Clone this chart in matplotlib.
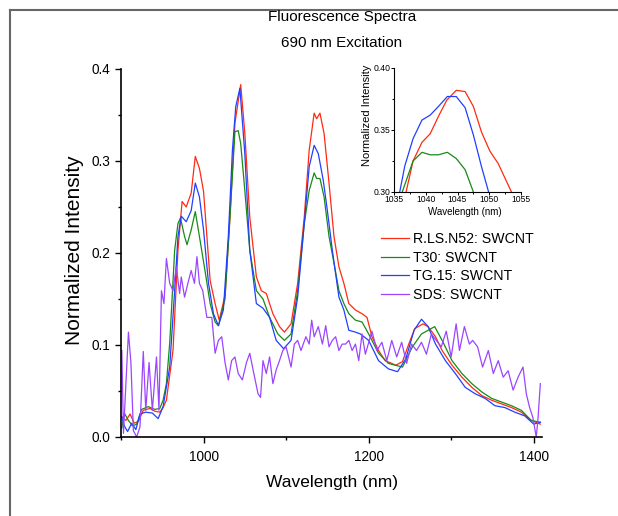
import matplotlib
matplotlib.use("Agg")
import matplotlib.pyplot as plt
from matplotlib.lines import Line2D
from matplotlib.ticker import MultipleLocator, FormatStrFormatter

# ---- data ----
red_wl = [901, 906, 911, 916, 921, 927, 935, 941, 947, 951, 955, 963, 969, 974, 979, 985, 990, 995,
          1000, 1008, 1014, 1019, 1026, 1032, 1038, 1045, 1050, 1056, 1064, 1070, 1076, 1084, 1092,
          1098, 1106, 1114, 1122, 1128, 1134, 1137, 1141, 1146, 1152, 1158, 1164, 1170, 1176, 1184,
          1192, 1198, 1204, 1212, 1220, 1233, 1241, 1249, 1256, 1266, 1272, 1281, 1289, 1301, 1313,
          1325, 1337, 1349, 1361, 1373, 1385, 1397, 1408]
red_int = [0.022, 0.018, 0.025, 0.015, 0.017, 0.029, 0.031, 0.028, 0.027, 0.032, 0.040, 0.094, 0.203,
           0.256, 0.250, 0.265, 0.305, 0.292, 0.267, 0.170, 0.145, 0.127, 0.154, 0.239, 0.341, 0.383,
           0.330, 0.239, 0.174, 0.159, 0.156, 0.134, 0.120, 0.114, 0.123, 0.167, 0.239, 0.312, 0.352,
           0.346, 0.352, 0.330, 0.276, 0.218, 0.185, 0.167, 0.145, 0.138, 0.134, 0.130, 0.109, 0.094,
           0.083, 0.078, 0.082, 0.102, 0.118, 0.123, 0.120, 0.109, 0.094, 0.078, 0.065, 0.054, 0.045,
           0.040, 0.036, 0.032, 0.027, 0.018, 0.014]

green_wl = [901, 904, 909, 914, 919, 925, 933, 941, 947, 951, 955, 959, 965, 969, 972, 977, 980, 985,
            990, 995, 1001, 1008, 1014, 1018, 1026, 1032, 1038, 1042, 1045, 1050, 1056, 1064, 1072,
            1080, 1090, 1098, 1106, 1114, 1122, 1128, 1134, 1137, 1141, 1146, 1152, 1158, 1164, 1170,
            1176, 1184, 1192, 1200, 1212, 1224, 1241, 1253, 1264, 1280, 1289, 1301, 1313, 1325, 1337,
            1349, 1361, 1373, 1385, 1397, 1408]
green_int = [0.010, 0.026, 0.018, 0.012, 0.014, 0.030, 0.033, 0.030, 0.031, 0.040, 0.058, 0.102, 0.203,
             0.232, 0.238, 0.218, 0.209, 0.225, 0.245, 0.218, 0.185, 0.145, 0.125, 0.121, 0.150, 0.239,
             0.332, 0.333, 0.319, 0.268, 0.203, 0.159, 0.150, 0.130, 0.112, 0.105, 0.112, 0.159, 0.232,
             0.268, 0.287, 0.281, 0.281, 0.261, 0.218, 0.189, 0.159, 0.145, 0.134, 0.127, 0.125, 0.112,
             0.091, 0.080, 0.076, 0.098, 0.112, 0.120, 0.105, 0.083, 0.069, 0.058, 0.049, 0.042, 0.038,
             0.034, 0.029, 0.018, 0.016]

blue_wl = [901, 904, 908, 913, 918, 923, 930, 938, 945, 951, 959, 965, 969, 973, 979, 985, 990, 995,
           1000, 1006, 1012, 1018, 1024, 1030, 1035, 1039, 1044, 1050, 1056, 1064, 1072, 1080, 1088,
           1097, 1106, 1114, 1122, 1128, 1134, 1139, 1145, 1150, 1156, 1164, 1170, 1176, 1184, 1190,
           1200, 1212, 1224, 1235, 1245, 1255, 1264, 1272, 1281, 1293, 1305, 1317, 1329, 1341, 1353,
           1365, 1377, 1389, 1400, 1408]
blue_int = [0.022, 0.012, 0.006, 0.015, 0.008, 0.025, 0.027, 0.026, 0.020, 0.033, 0.076, 0.159, 0.218,
            0.240, 0.234, 0.246, 0.276, 0.261, 0.225, 0.167, 0.134, 0.121, 0.138, 0.218, 0.312, 0.359,
            0.379, 0.308, 0.203, 0.145, 0.140, 0.130, 0.105, 0.096, 0.105, 0.152, 0.232, 0.294, 0.317,
            0.308, 0.279, 0.246, 0.203, 0.152, 0.138, 0.116, 0.114, 0.112, 0.105, 0.083, 0.074, 0.071,
            0.085, 0.116, 0.128, 0.120, 0.101, 0.083, 0.069, 0.054, 0.047, 0.042, 0.034, 0.032, 0.027,
            0.023, 0.014, 0.016]

sds_wl = [901, 903, 909, 912, 915, 919, 923, 927, 930, 934, 938, 943, 946, 949, 952, 955, 959, 963,
          967, 971, 973, 977, 981, 985, 989, 992, 995, 999, 1004, 1010, 1014, 1018, 1022, 1026, 1030,
          1034, 1038, 1042, 1047, 1052, 1056, 1060, 1066, 1069, 1072, 1076, 1080, 1084, 1088, 1092,
          1096, 1100, 1106, 1110, 1114, 1118, 1124, 1128, 1131, 1134, 1139, 1144, 1148, 1152, 1156,
          1160, 1164, 1168, 1172, 1176, 1180, 1184, 1188, 1192, 1196, 1204, 1210, 1216, 1222, 1228,
          1234, 1240, 1246, 1252, 1258, 1264, 1270, 1276, 1282, 1288, 1294, 1300, 1306, 1310, 1316,
          1322, 1326, 1332, 1338, 1345, 1351, 1357, 1363, 1369, 1375, 1381, 1387, 1391, 1395, 1399,
          1403, 1405, 1408]
sds_int = [0.094, 0.004, 0.114, 0.081, 0.007, 0.0, 0.011, 0.093, 0.029, 0.081, 0.029, 0.087, 0.029,
           0.159, 0.145, 0.194, 0.167, 0.159, 0.185, 0.156, 0.174, 0.152, 0.167, 0.181, 0.167, 0.196,
           0.167, 0.159, 0.130, 0.130, 0.091, 0.105, 0.109, 0.081, 0.062, 0.083, 0.087, 0.069, 0.062,
           0.081, 0.091, 0.073, 0.047, 0.043, 0.083, 0.069, 0.087, 0.058, 0.073, 0.083, 0.094, 0.098,
           0.076, 0.101, 0.105, 0.094, 0.109, 0.101, 0.127, 0.109, 0.120, 0.101, 0.121, 0.098, 0.105,
           0.109, 0.094, 0.101, 0.101, 0.105, 0.094, 0.101, 0.083, 0.112, 0.090, 0.115, 0.094, 0.103,
           0.083, 0.105, 0.087, 0.103, 0.080, 0.101, 0.094, 0.103, 0.090, 0.112, 0.105, 0.098, 0.115,
           0.087, 0.123, 0.094, 0.120, 0.101, 0.105, 0.098, 0.076, 0.094, 0.069, 0.083, 0.065, 0.072,
           0.051, 0.065, 0.076, 0.047, 0.032, 0.021, 0.0, 0.018, 0.058]

# inset (zoom on the 1045 nm peak)
ins_red_wl = [1036.9, 1038.0, 1039.4, 1040.7, 1042.0, 1043.3, 1044.8, 1046.2, 1047.5, 1048.8, 1050.1, 1051.4, 1053.5]
ins_red_int = [0.300, 0.325, 0.340, 0.347, 0.361, 0.374, 0.382, 0.381, 0.369, 0.348, 0.333, 0.323, 0.300]
ins_green_wl = [1036.3, 1038.0, 1039.4, 1040.7, 1042.0, 1043.4, 1044.8, 1046.2, 1047.5]
ins_green_int = [0.300, 0.325, 0.332, 0.330, 0.330, 0.332, 0.327, 0.318, 0.300]
ins_blue_wl = [1035.9, 1036.7, 1038.0, 1039.4, 1040.7, 1042.0, 1043.4, 1044.8, 1046.2, 1047.5, 1048.8, 1049.9]
ins_blue_int = [0.300, 0.321, 0.343, 0.358, 0.362, 0.369, 0.377, 0.377, 0.368, 0.346, 0.320, 0.300]

labels = ["R.LS.N52: SWCNT", "T30: SWCNT", "TG.15: SWCNT", "SDS: SWCNT"]
colors = ["#ff2a12", "#178a17", "#2040ff", "#9b45ff"]

plt.rcParams["font.family"] = ["Liberation Sans", "DejaVu Sans"]

W, H = 618, 516
fig = plt.figure(figsize=(W / 100, H / 100), dpi=100)


def fx(px):
    return px / W


def fy(py):
    return 1 - py / H


# gray frame on top and left (screenshot border)
fig.add_artist(Line2D([fx(10), 1], [fy(10), fy(10)], color="#666666", lw=1.5))
fig.add_artist(Line2D([fx(10), fx(10)], [fy(10), 0], color="#666666", lw=1.5))

ax = fig.add_axes([fx(121), fy(437), fx(542) - fx(121), fy(69) - fy(437)])
series = [(red_wl, red_int), (green_wl, green_int), (blue_wl, blue_int), (sds_wl, sds_int)]
for (x, y), c, lab in zip(series, colors, labels):
    ax.plot(x, y, color=c, lw=0.9, label=lab)

ax.set_xlim(900, 1410)
ax.set_ylim(0, 0.4)
ax.xaxis.set_major_locator(MultipleLocator(200))
ax.xaxis.set_minor_locator(MultipleLocator(100))
ax.yaxis.set_major_locator(MultipleLocator(0.1))
ax.yaxis.set_minor_locator(MultipleLocator(0.05))
ax.yaxis.set_major_formatter(FormatStrFormatter("%.1f"))
for s in ["top", "right"]:
    ax.spines[s].set_visible(False)
for s in ["left", "bottom"]:
    ax.spines[s].set_linewidth(1.2)
ax.tick_params(which="major", direction="out", length=4.5, width=1, labelsize=9.8, pad=3)
ax.tick_params(which="minor", direction="out", length=2.5, width=1)
ax.tick_params(axis="x", pad=5)

ax.set_xlabel("Wavelength (nm)", fontsize=12.5)
ax.xaxis.label.set_va("center")
ax.xaxis.set_label_coords(0.50, (437 - 482) / 368)
ax.set_ylabel("Normalized Intensity", fontsize=15)
ax.yaxis.label.set_va("center")
ax.yaxis.set_label_coords((75 - 121) / 421, (437 - 250) / 368)

fig.text(fx(342), fy(17), "Fluorescence Spectra", ha="center", va="center", fontsize=11)
fig.text(fx(342), fy(43), "690 nm Excitation", ha="center", va="center", fontsize=11)

ax.legend(loc="upper left", bbox_to_anchor=(fx(381), fy(232)), bbox_transform=fig.transFigure,
          frameon=False, fontsize=10.2, handlelength=2.0, handletextpad=0.25,
          labelspacing=0.32, borderpad=0, borderaxespad=0)

# inset
axi = fig.add_axes([fx(394), fy(192), fx(521) - fx(394), fy(68) - fy(192)])
axi.plot(ins_red_wl, ins_red_int, color=colors[0], lw=0.9)
axi.plot(ins_green_wl, ins_green_int, color=colors[1], lw=0.9)
axi.plot(ins_blue_wl, ins_blue_int, color=colors[2], lw=0.9)
axi.set_xlim(1035, 1055)
axi.set_ylim(0.30, 0.40)
axi.xaxis.set_major_locator(MultipleLocator(5))
axi.xaxis.set_minor_locator(MultipleLocator(2.5))
axi.yaxis.set_major_locator(MultipleLocator(0.05))
axi.yaxis.set_minor_locator(MultipleLocator(0.025))
axi.yaxis.set_major_formatter(FormatStrFormatter("%.2f"))
for s in ["top", "right"]:
    axi.spines[s].set_visible(False)
for s in ["left", "bottom"]:
    axi.spines[s].set_linewidth(0.8)
axi.tick_params(which="major", direction="out", length=2, width=0.7, labelsize=6.2, pad=0.5)
axi.tick_params(which="minor", direction="out", length=1.2, width=0.7)
axi.set_xlabel("Wavelength (nm)", fontsize=7)
axi.xaxis.label.set_va("center")
axi.xaxis.set_label_coords((465 - 394) / 127, (192 - 212) / 124)
axi.set_ylabel("Normalized Intensity", fontsize=8)
axi.yaxis.label.set_va("center")
axi.yaxis.set_label_coords((367 - 394) / 127, (192 - 115) / 124)

fig.savefig("out.png", dpi=100)
